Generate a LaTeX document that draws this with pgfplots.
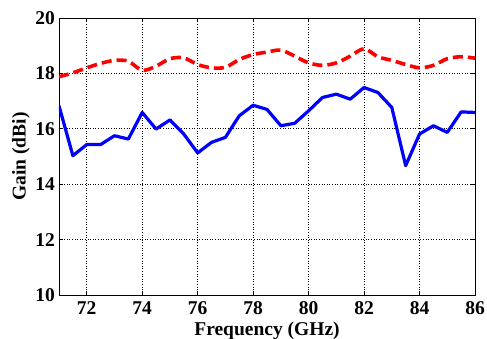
\documentclass[border=0pt]{standalone}
\usepackage{pgfplots}
\pgfplotsset{compat=1.18}
\usepackage{fontspec}
\setmainfont{Liberation Serif}

\begin{document}
\begin{tikzpicture}
\begin{axis}[
  scale only axis,
  width=416pt, height=277pt,
  xmin=71, xmax=86, ymin=10, ymax=20,
  xtick={72,74,...,86}, ytick={10,12,...,20},
  grid=major,
  major grid style={black, line width=0.6pt, dotted},
  axis line style={black, line width=0.9pt},
  tick align=inside, major tick length=4pt,
  tick style={black, line width=0.6pt},
  /pgf/number format/assume math mode=true,
  ticklabel style={font=\fontsize{19.5}{22}\selectfont\bfseries, inner sep=0pt},
  yticklabel style={anchor=east, xshift=-4pt},
  xticklabel style={anchor=north, yshift=-6pt},
  xlabel={Frequency (GHz)},
  ylabel={Gain (dBi)},
  label style={font=\fontsize{19.5}{22}\selectfont\bfseries, inner sep=0pt},
  xlabel style={at={(axis description cs:0.5,-0.095)}, anchor=north},
  ylabel style={at={(axis description cs:-0.113,0.5)}, anchor=north, rotate=0},
]
% simulated gain
\addplot[red, line width=3.6pt, dash pattern=on 10pt off 5pt, smooth] coordinates {
  (71,17.88) (71.5,18.02) (72,18.20) (72.5,18.36) (73,18.47) (73.5,18.44)
  (74,18.11) (74.5,18.26) (75,18.53) (75.5,18.56) (76,18.32) (76.5,18.20)
  (77,18.22) (77.5,18.50) (78,18.68) (78.5,18.77) (79,18.84) (79.5,18.62)
  (80,18.38) (80.5,18.29) (81,18.38) (81.5,18.62) (82,18.89) (82.5,18.60)
  (83,18.47) (83.5,18.32) (84,18.20) (84.5,18.29) (85,18.53) (85.5,18.60)
  (86,18.55)
};
% measured gain
\addplot[blue, line width=3.2pt, line join=round] coordinates {
  (71,16.83) (71.5,15.03) (72,15.43) (72.5,15.43) (73,15.75) (73.5,15.63)
  (74,16.59) (74.5,15.99) (75,16.32) (75.5,15.81) (76,15.13) (76.5,15.51)
  (77,15.69) (77.5,16.47) (78,16.85) (78.5,16.70) (79,16.11) (79.5,16.20)
  (80,16.65) (80.5,17.13) (81,17.25) (81.5,17.07) (82,17.49) (82.5,17.31)
  (83,16.77) (83.5,14.67) (84,15.81) (84.5,16.11) (85,15.87) (85.5,16.61)
  (86,16.59)
};
\end{axis}
\pgfresetboundingbox
\path ([shift={(-59pt,-43.5pt)}]current axis.south west)
  rectangle ([shift={(12pt,18pt)}]current axis.north east);
\end{tikzpicture}
\end{document}
